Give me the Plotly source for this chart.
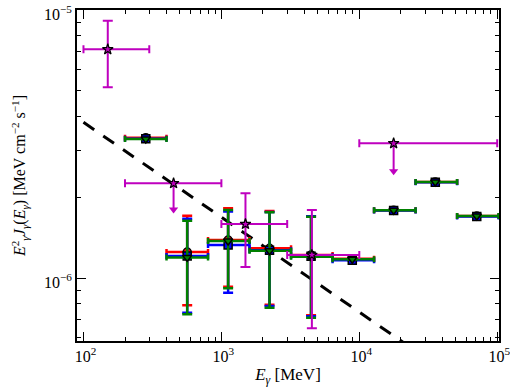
import plotly.graph_objects as go

# ---------------- data ----------------
# bins (MeV): doubling energy bins
bin_lo = [200, 400, 800, 1600, 3200, 6400, 12800, 25600, 51200]
bin_hi = [400, 800, 1600, 3200, 6400, 12800, 25600, 51200, 102400]
e_center = [283, 565, 1119, 2234, 4470, 8895, 17740, 35570, 71100]

# green series (triangle-down)
g_y = [3.30e-6, 1.194e-6, 1.374e-6, 1.265e-6, 1.20e-6, 1.175e-6, 1.79e-6, 2.28e-6, 1.703e-6]
g_up = [3.30e-6, 1.636e-6, 1.795e-6, 1.759e-6, 1.694e-6, 1.175e-6, 1.79e-6, 2.28e-6, 1.703e-6]
g_lo = [3.30e-6, 7.32e-7, 9.15e-7, 7.74e-7, 7.11e-7, 1.175e-6, 1.79e-6, 2.28e-6, 1.703e-6]

# red series (circle)
r_y = [3.34e-6, 1.25e-6, 1.386e-6, 1.291e-6, 1.219e-6, 1.18e-6, 1.79e-6, 2.28e-6, 1.703e-6]
r_up = [3.34e-6, 1.708e-6, 1.82e-6, 1.778e-6, 1.70e-6, 1.18e-6, 1.79e-6, 2.28e-6, 1.703e-6]
r_lo = [3.34e-6, 7.91e-7, 9.28e-7, 7.95e-7, 7.26e-7, 1.18e-6, 1.79e-6, 2.28e-6, 1.703e-6]

# blue series (square)
b_y = [3.31e-6, 1.208e-6, 1.328e-6, 1.27e-6, 1.205e-6, 1.165e-6, 1.785e-6, 2.275e-6, 1.695e-6]
b_up = [3.31e-6, 1.664e-6, 1.77e-6, 1.765e-6, 1.70e-6, 1.165e-6, 1.785e-6, 2.275e-6, 1.695e-6]
b_lo = [3.31e-6, 7.42e-7, 8.81e-7, 7.86e-7, 7.2e-7, 1.165e-6, 1.785e-6, 2.275e-6, 1.695e-6]

# magenta measurements (stars)
m_x = [150, 1495, 4530]
m_xlo = [100, 1000, 3000]
m_xhi = [300, 3000, 10000]
m_y = [7.13e-6, 1.59e-6, 1.219e-6]
m_yup = [9.12e-6, 2.07e-6, 1.795e-6]
m_ylo = [5.15e-6, 1.10e-6, 6.49e-7]

# magenta upper limits
ul_x = [450, 17740]
ul_xlo = [200, 10000]
ul_xhi = [1000, 100000]
ul_y = [2.256e-6, 3.18e-6]
ul_tip = [1.80e-6, 2.50e-6]

# dashed power-law line end points
line_x = [100, 100000]
line_y = [3.81e-6, 3.30e-7]

# ticks
x_tickvals = [100, 1000, 10000, 100000]
x_ticktext = ["10<sup>2</sup>", "10<sup>3</sup>", "10<sup>4</sup>", "10<sup>5</sup>"]
y_tickvals = [1e-6, 1e-5]
y_ticktext = ["10<sup>−6</sup>", "10<sup>−5</sup>"]

RED = "#ff0000"
BLUE = "#0000ff"
GREEN = "#008000"
MAG = "#bf00bf"

fig = go.Figure()

fig.add_trace(go.Scatter(
    x=line_x, y=line_y, mode="lines",
    line=dict(color="black", width=3, dash="13px,11px"),
    showlegend=False, hoverinfo="skip"))


def series(xs, ys, ups, los, color, symbol, size):
    return go.Scatter(
        x=xs, y=ys, mode="markers",
        marker=dict(symbol=symbol, size=size, color=color,
                    line=dict(color="black", width=1.5)),
        error_x=dict(type="data", symmetric=False,
                     array=[h - c for h, c in zip(bin_hi, xs)],
                     arrayminus=[c - l for c, l in zip(xs, bin_lo)],
                     color=color, thickness=2.5, width=3),
        error_y=dict(type="data", symmetric=False,
                     array=[u - v for u, v in zip(ups, ys)],
                     arrayminus=[v - l for v, l in zip(ys, los)],
                     color=color, thickness=2.5, width=5),
        showlegend=False)


fig.add_trace(series(e_center, r_y, r_up, r_lo, RED, "circle", 8))
fig.add_trace(series(e_center, b_y, b_up, b_lo, BLUE, "square", 8))
fig.add_trace(series(e_center, g_y, g_up, g_lo, GREEN, "triangle-down", 8))

# magenta measurements
fig.add_trace(go.Scatter(
    x=m_x, y=m_y, mode="markers",
    marker=dict(symbol="star", size=8, color=MAG, line=dict(color="black", width=1.2)),
    error_x=dict(type="data", symmetric=False,
                 array=[h - c for h, c in zip(m_xhi, m_x)],
                 arrayminus=[c - l for c, l in zip(m_x, m_xlo)],
                 color=MAG, thickness=2, width=4),
    error_y=dict(type="data", symmetric=False,
                 array=[u - v for u, v in zip(m_yup, m_y)],
                 arrayminus=[v - l for v, l in zip(m_y, m_ylo)],
                 color=MAG, thickness=2, width=5),
    showlegend=False))

# magenta upper limits: arrow shafts + heads
fig.add_trace(go.Scatter(
    x=ul_x, y=ul_y, mode="markers",
    marker=dict(symbol="star", size=8, color=MAG, line=dict(color="black", width=1.2)),
    error_x=dict(type="data", symmetric=False,
                 array=[h - c for h, c in zip(ul_xhi, ul_x)],
                 arrayminus=[c - l for c, l in zip(ul_x, ul_xlo)],
                 color=MAG, thickness=2, width=4),
    error_y=dict(type="data", symmetric=False,
                 array=[0, 0],
                 arrayminus=[v - t for v, t in zip(ul_y, ul_tip)],
                 color=MAG, thickness=2, width=0),
    showlegend=False))
fig.add_trace(go.Scatter(
    x=ul_x, y=ul_tip, mode="markers",
    marker=dict(symbol="triangle-down", size=8, color=MAG, line=dict(width=0)),
    showlegend=False))

FONT = "Liberation Serif, Times New Roman, serif"

fig.update_layout(
    width=510, height=392,
    margin=dict(l=77, r=11, t=10, b=51),
    paper_bgcolor="white", plot_bgcolor="white",
    font=dict(family=FONT, size=16, color="black"),
    showlegend=False,
)

fig.update_xaxes(
    type="log", range=[1.953, 5.013], automargin=False,
    showgrid=False, zeroline=False,
    showline=True, linecolor="black", linewidth=2, mirror="allticks",
    ticks="inside", ticklen=9, tickwidth=1, tickcolor="black",
    tickvals=x_tickvals, ticktext=x_ticktext,
    ticklabelshift=2, ticklabeloverflow="allow",
    minor=dict(ticks="inside", ticklen=4, tickwidth=1, tickcolor="black",
               dtick="D1", showgrid=False),
    title=dict(text="<i>E<sub>γ</sub></i> [MeV]", font=dict(size=17, family=FONT), standoff=4),
)
fig.update_yaxes(
    type="log", range=[-6.235, -5.0], automargin=False,
    showgrid=False, zeroline=False,
    showline=True, linecolor="black", linewidth=2, mirror="allticks",
    ticks="inside", ticklen=9, tickwidth=1, tickcolor="black",
    tickvals=y_tickvals, ticktext=y_ticktext,
    ticklabelshift=4, ticklabeloverflow="allow",
    minor=dict(ticks="inside", ticklen=4, tickwidth=1, tickcolor="black",
               dtick="D1", showgrid=False),
    title=dict(text="<i>E</i><sup>2</sup><sub><i>γ</i></sub><i>J<sub>γ</sub></i>(<i>E<sub>γ</sub></i>) [MeV cm<sup>−2</sup> s<sup>−1</sup>]",
               font=dict(size=16, family=FONT), standoff=14),
)

fig.write_html("out.html")
